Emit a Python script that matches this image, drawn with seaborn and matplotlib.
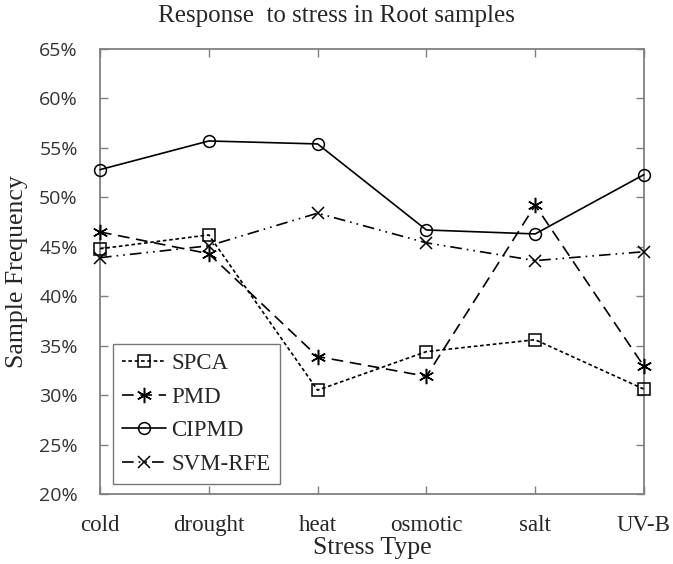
import matplotlib
matplotlib.use("Agg")
import matplotlib.pyplot as plt
import numpy as np
import pandas as pd
import seaborn as sns
from matplotlib.ticker import PercentFormatter

# Data (percent)
stress_types = ["cold", "drought", "heat", "osmotic", "salt", "UV-B"]
spca = [44.8, 46.2, 30.5, 34.4, 35.6, 30.6]
pmd = [46.5, 44.3, 33.9, 31.9, 49.2, 32.9]
cipmd = [52.8, 55.7, 55.4, 46.7, 46.3, 52.3]
svm_rfe = [43.9, 45.1, 48.4, 45.4, 43.6, 44.5]
y_ticks = [20, 25, 30, 35, 40, 45, 50, 55, 60, 65]

SERIF = "Liberation Serif"

sns.set_style("white")
plt.rcParams["font.family"] = [SERIF, "DejaVu Serif"]

fig = plt.figure(figsize=(6.73, 5.64), dpi=100)
ax = fig.add_axes([100 / 673, 1 - 494 / 564, 544 / 673, 445 / 564])

pos = np.arange(len(stress_types))
series = [
	("SPCA", spca, "s", 8, (0, (2.2, 1.6))),
	("PMD", pmd, (6, 2, 0), 11, (0, (7, 4))),
	("CIPMD", cipmd, "o", 8.5, "-"),
	("SVM-RFE", svm_rfe, "x", 8, (0, (7, 3, 1, 3, 1, 3))),
]

for name, values, marker, msize, ls in series:
	df = pd.DataFrame({"pos": pos, "value": values})
	sns.lineplot(
		data=df,
		x="pos",
		y="value",
		ax=ax,
		color="black",
		linewidth=1.2,
		linestyle=ls,
		marker=marker,
		markersize=msize,
		markerfacecolor="none",
		markeredgecolor="black",
		markeredgewidth=1.1,
		label=name,
		clip_on=False,
		zorder=3,
	)

ax.set_xlim(0, len(stress_types) - 1)
ax.set_ylim(20, 65)
ax.set_xticks(pos)
ax.set_xticklabels(stress_types, fontsize=16.5, family=SERIF)
ax.set_yticks(y_ticks)
ax.yaxis.set_major_formatter(PercentFormatter(xmax=100, decimals=0))
for lab in ax.get_yticklabels():
	lab.set_family("Open Sans")
	lab.set_fontsize(14)
	lab.set_color("#333333")

ax.tick_params(axis="both", direction="in", length=6, width=1, color="#808080",
			   top=True, right=True, bottom=True, left=True)
ax.tick_params(axis="x", pad=15)
ax.tick_params(axis="y", pad=16)
for spine in ax.spines.values():
	spine.set_color("#808080")
	spine.set_linewidth(1.3)

ax.set_xlabel("Stress Type", fontsize=18.5, family=SERIF, labelpad=1)
ax.set_ylabel("Sample Frequency", fontsize=18.5, family=SERIF, labelpad=8)
fig.text(0.5, 1 - 16 / 564, "Response  to stress in Root samples", ha="center", va="center",
		 fontsize=18, family=SERIF)

leg = ax.legend(
	loc="lower left",
	bbox_to_anchor=(0.024, 0.022),
	frameon=True,
	fancybox=False,
	edgecolor="#555555",
	handlelength=1.9,
	handletextpad=0.25,
	labelspacing=0.55,
	borderpad=0.4,
	borderaxespad=0,
	prop={"family": SERIF, "size": 16.5},
)
leg.get_frame().set_linewidth(1.0)

fig.savefig("out.png", dpi=100)
